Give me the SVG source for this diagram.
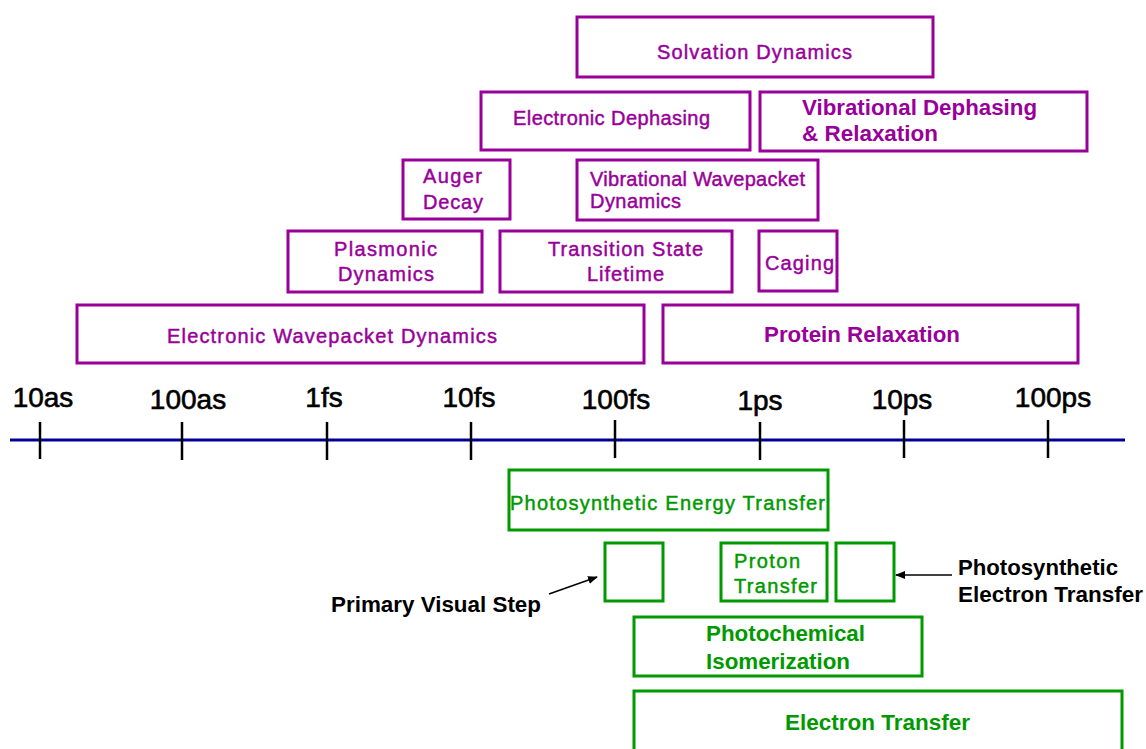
<svg xmlns="http://www.w3.org/2000/svg" width="1146" height="749" viewBox="0 0 1146 749">
<style>
text{font-family:"Liberation Sans",Arial,sans-serif}
.pb{fill:none;stroke:#990099;stroke-width:3}
.gb{fill:none;stroke:#009900;stroke-width:3}
.pt{fill:#990099;stroke:#990099;stroke-width:0.45;font-size:20px}
.ptb{fill:#990099;font-size:22px;font-weight:bold}
.gt{fill:#009900;stroke:#009900;stroke-width:0.45;font-size:20px}
.gtb{fill:#009900;font-size:22px;font-weight:bold}
.kt{fill:#000;font-size:22px;font-weight:bold}
.ax{fill:#000;stroke:#000;stroke-width:0.6;font-size:28px}
.tick{stroke:#000;stroke-width:2.5}
.arr{stroke:#000;stroke-width:1.5;fill:none}
</style>
<defs>
<marker id="ah" markerWidth="10" markerHeight="8" refX="9" refY="4" orient="auto" markerUnits="userSpaceOnUse">
<path d="M0,0 L10,4 L0,8 Z" fill="#000"/>
</marker>
</defs>
<rect width="1146" height="749" fill="#fff"/>

<g id="axis">
<line x1="10" y1="440" x2="1125" y2="440" stroke="#000099" stroke-width="3"/>
<line class="tick" x1="40" y1="422" x2="40" y2="459"/>
<line class="tick" x1="182" y1="422" x2="182" y2="460"/>
<line class="tick" x1="327" y1="422" x2="327" y2="460"/>
<line class="tick" x1="471" y1="422" x2="471" y2="460"/>
<line class="tick" x1="615" y1="420" x2="615" y2="458"/>
<line class="tick" x1="760" y1="422" x2="760" y2="460"/>
<line class="tick" x1="904" y1="420" x2="904" y2="458"/>
<line class="tick" x1="1048" y1="420" x2="1048" y2="458"/>
<text class="ax" x="43" y="407" text-anchor="middle">10as</text>
<text class="ax" x="188" y="409" text-anchor="middle">100as</text>
<text class="ax" x="324" y="407" text-anchor="middle">1fs</text>
<text class="ax" x="469" y="407" text-anchor="middle">10fs</text>
<text class="ax" x="616" y="409" text-anchor="middle">100fs</text>
<text class="ax" x="760" y="410" text-anchor="middle">1ps</text>
<text class="ax" x="902" y="409" text-anchor="middle">10ps</text>
<text class="ax" x="1053" y="407" text-anchor="middle">100ps</text>
</g>

<g id="solvation">
<rect class="pb" x="577" y="17" width="356" height="60"/>
<text class="pt" x="657" y="59" textLength="195" lengthAdjust="spacing">Solvation Dynamics</text>
</g>
<g id="electronic-dephasing">
<rect class="pb" x="481" y="92" width="269" height="58"/>
<text class="pt" x="513" y="125" textLength="197" lengthAdjust="spacing">Electronic Dephasing</text>
</g>
<g id="vibrational-dephasing">
<rect class="pb" x="760" y="92" width="327" height="59"/>
<text class="ptb" x="802" y="115" textLength="235" lengthAdjust="spacingAndGlyphs">Vibrational Dephasing</text>
<text class="ptb" x="802" y="141" textLength="136" lengthAdjust="spacingAndGlyphs">&amp; Relaxation</text>
</g>
<g id="auger">
<rect class="pb" x="403" y="160" width="107" height="59"/>
<text class="pt" x="423" y="183" textLength="59" lengthAdjust="spacing">Auger</text>
<text class="pt" x="423" y="209" textLength="60" lengthAdjust="spacing">Decay</text>
</g>
<g id="vibrational-wavepacket">
<rect class="pb" x="577" y="160" width="241" height="60"/>
<text class="pt" x="590" y="186" textLength="215" lengthAdjust="spacing">Vibrational Wavepacket</text>
<text class="pt" x="590" y="208" textLength="91" lengthAdjust="spacing">Dynamics</text>
</g>
<g id="plasmonic">
<rect class="pb" x="288" y="231" width="194" height="61"/>
<text class="pt" x="334" y="256" textLength="103" lengthAdjust="spacing">Plasmonic</text>
<text class="pt" x="338" y="281" textLength="96" lengthAdjust="spacing">Dynamics</text>
</g>
<g id="transition-state">
<rect class="pb" x="500" y="231" width="232" height="61"/>
<text class="pt" x="548" y="256" textLength="155" lengthAdjust="spacing">Transition State</text>
<text class="pt" x="587" y="281" textLength="77" lengthAdjust="spacing">Lifetime</text>
</g>
<g id="caging">
<rect class="pb" x="759" y="231" width="78" height="60"/>
<text class="pt" x="765" y="270" textLength="69" lengthAdjust="spacing">Caging</text>
</g>
<g id="electronic-wavepacket">
<rect class="pb" x="77" y="305" width="567" height="58"/>
<text class="pt" x="167" y="343" textLength="330" lengthAdjust="spacing">Electronic Wavepacket Dynamics</text>
</g>
<g id="protein-relaxation">
<rect class="pb" x="663" y="305" width="415" height="58"/>
<text class="ptb" x="764" y="342" textLength="196" lengthAdjust="spacingAndGlyphs">Protein Relaxation</text>
</g>

<g id="photosynthetic-energy">
<rect class="gb" x="509" y="470" width="319" height="60"/>
<text class="gt" x="510" y="510" textLength="315" lengthAdjust="spacing">Photosynthetic Energy Transfer</text>
</g>
<g id="primary-visual">
<rect class="gb" x="605" y="543" width="58" height="58"/>
<text class="kt" x="331" y="612" textLength="210" lengthAdjust="spacingAndGlyphs">Primary Visual Step</text>
</g>
<g id="proton-transfer">
<rect class="gb" x="721" y="543" width="106" height="58"/>
<text class="gt" x="734" y="568" textLength="66" lengthAdjust="spacing">Proton</text>
<text class="gt" x="734" y="593" textLength="83" lengthAdjust="spacing">Transfer</text>
</g>
<g id="photosynthetic-electron">
<rect class="gb" x="836" y="543" width="58" height="58"/>
<text class="kt" x="958" y="575" textLength="160" lengthAdjust="spacingAndGlyphs">Photosynthetic</text>
<text class="kt" x="958" y="602" textLength="185" lengthAdjust="spacingAndGlyphs">Electron Transfer</text>
</g>
<g id="photochemical">
<rect class="gb" x="634" y="617" width="288" height="59"/>
<text class="gtb" x="706" y="641" textLength="159" lengthAdjust="spacingAndGlyphs">Photochemical</text>
<text class="gtb" x="706" y="669" textLength="144" lengthAdjust="spacingAndGlyphs">Isomerization</text>
</g>
<g id="electron-transfer">
<rect class="gb" x="634" y="691" width="488" height="80"/>
<text class="gtb" x="785" y="730" textLength="185" lengthAdjust="spacingAndGlyphs">Electron Transfer</text>
</g>

<g id="connectors">
<line class="arr" x1="549" y1="594" x2="597" y2="577" marker-end="url(#ah)"/>
<line class="arr" x1="952" y1="575" x2="896" y2="575" marker-end="url(#ah)"/>
</g>
</svg>
